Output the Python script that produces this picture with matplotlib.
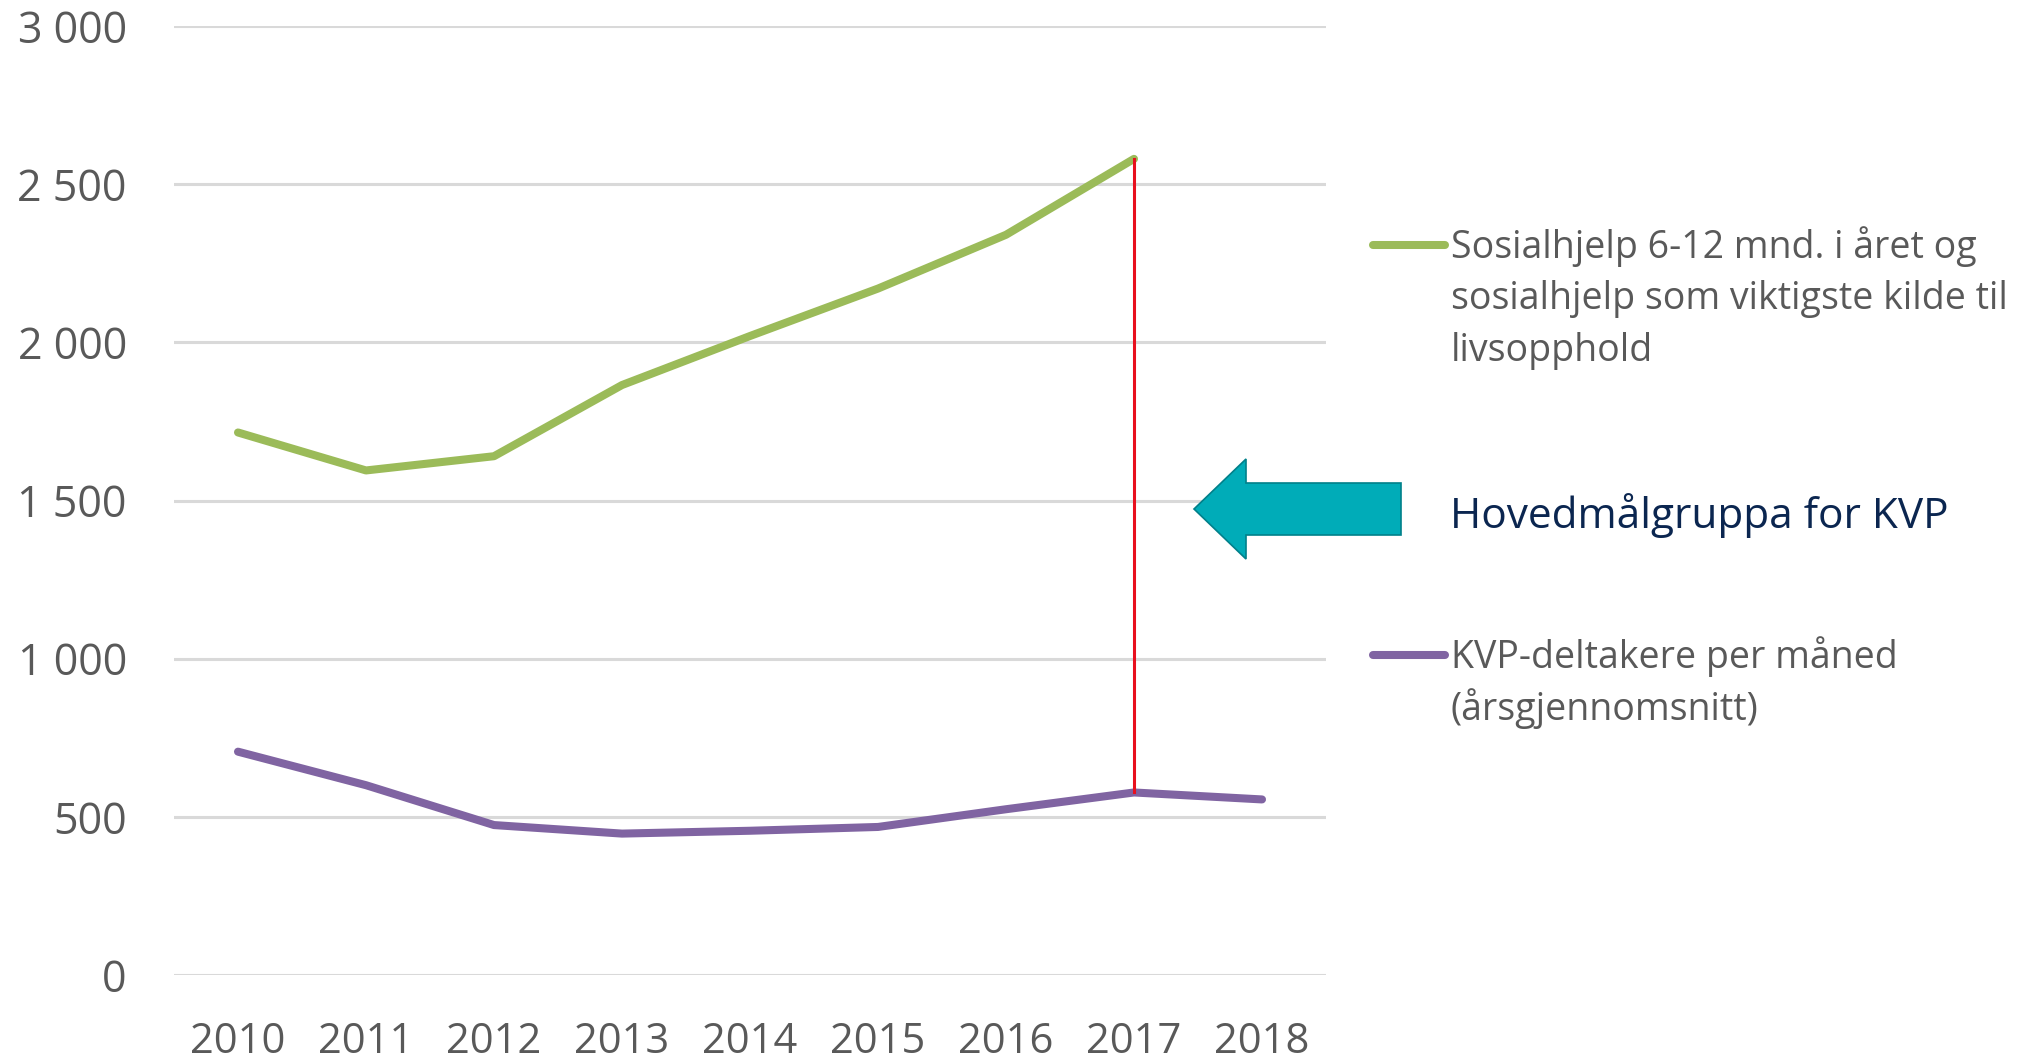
import matplotlib
matplotlib.use("Agg")
from matplotlib import pyplot as plt
from matplotlib.lines import Line2D
from matplotlib.patches import Polygon
from matplotlib.ticker import FuncFormatter

years = ['2010', '2011', '2012', '2013', '2014', '2015', '2016', '2017', '2018']
sosialhjelp = [1715, 1595, 1640, 1865, 2020, 2170, 2340, 2580]
kvp = [706, 600, 474, 447, 456, 468, 524, 577, 555]

label_green = ['Sosialhjelp 6-12 mnd. i året og',
               'sosialhjelp som viktigste kilde til',
               'livsopphold']
label_purple = ['KVP-deltakere per måned', '(årsgjennomsnitt)']
note = 'Hovedmålgruppa for KVP'

green = '#9BBB59'
purple = '#8064A2'
grey = '#595959'

W, H = 2026, 1062
plt.rcParams['font.family'] = ['Open Sans', 'DejaVu Sans']

fig = plt.figure(figsize=(W / 100, H / 100), dpi=100)


def fx(px):
    return px / W


def fy(py):
    return 1 - py / H


ax = fig.add_axes([fx(174), fy(975), fx(1326) - fx(174), fy(26) - fy(975)])

x = list(range(len(years)))
ax.plot(x[:len(sosialhjelp)], sosialhjelp, color=green, linewidth=5.8, solid_capstyle='round')
ax.plot(x, kvp, color=purple, linewidth=5.8, solid_capstyle='round')

# red marker line between the two series in 2017
i17 = years.index('2017')
ax.plot([i17, i17], [sosialhjelp[i17], kvp[i17]], color='#E8101E', linewidth=2.2)

ax.set_xlim(-0.5, len(years) - 0.5)
ax.set_ylim(0, 3000)
ax.set_yticks(range(0, 3001, 500))
ax.yaxis.set_major_formatter(FuncFormatter(lambda v, p: f'{int(v):,}'.replace(',', ' ')))
ax.set_xticks(x)
ax.set_xticklabels(years)
ax.grid(axis='y', color='#D9D9D9', linewidth=2.2)
ax.set_axisbelow(True)
for s in ax.spines.values():
    s.set_visible(False)
ax.tick_params(axis='y', length=0, pad=34, labelsize=31, labelcolor=grey)
ax.tick_params(axis='x', length=0, pad=33, labelsize=30, labelcolor=grey)

# legend, drawn by hand to the right
fig.add_artist(Line2D([fx(1373), fx(1445)], [fy(245), fy(245)], color=green, linewidth=5.8,
                      solid_capstyle='round'))
for k, t in enumerate(label_green):
    fig.text(fx(1451), fy(247 + 52 * k), t, fontsize=27, color=grey, va='center', ha='left')
fig.add_artist(Line2D([fx(1373), fx(1445)], [fy(655), fy(655)], color=purple, linewidth=5.8,
                      solid_capstyle='round'))
for k, t in enumerate(label_purple):
    fig.text(fx(1451), fy(657 + 52 * k), t, fontsize=27, color=grey, va='center', ha='left')

# teal arrow pointing at the gap
arrow = [(1194, 509), (1246, 459), (1246, 483), (1401, 483),
         (1401, 535), (1246, 535), (1246, 559)]
fig.add_artist(Polygon([(fx(a), fy(b)) for a, b in arrow], closed=True,
                       facecolor='#00ACB8', edgecolor='#00808A', linewidth=1.2))
fig.text(fx(1450), fy(516), note, fontsize=30.5, color='#0B2650', va='center', ha='left')

fig.savefig('out.png', dpi=100)
